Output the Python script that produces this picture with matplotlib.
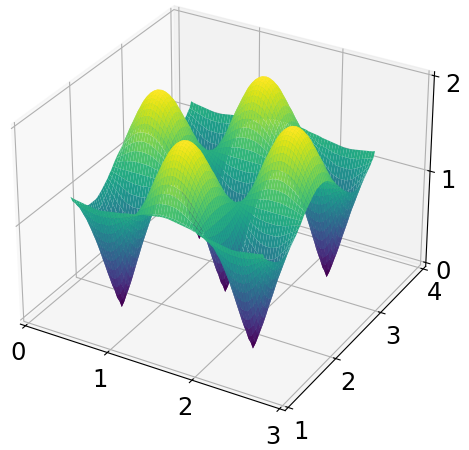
import numpy as np
import matplotlib
matplotlib.use("Agg")
import matplotlib.pyplot as plt

plt.rcParams["axes3d.automargin"] = True

x_nodes = np.linspace(0.383, 2.607, 69)
y_nodes = np.linspace(1.283, 3.666, 73)
z_low = [
 [0.00,0.07,0.16,0.26,0.37,0.48,0.59,0.71,0.82,0.93,1.04,1.14,1.24],
 [0.07,0.11,0.19,0.28,0.38,0.49,0.60,0.71,0.82,0.93,1.04,1.14,1.24],
 [0.16,0.19,0.245,0.32,0.42,0.52,0.62,0.73,0.835,0.94,1.04,1.14,1.24],
 [0.26,0.28,0.32,0.39,0.47,0.56,0.66,0.76,0.85,0.95,1.05,1.15,1.24],
 [0.37,0.38,0.42,0.47,0.54,0.62,0.70,0.79,0.88,0.97,1.065,1.15,1.24],
 [0.48,0.49,0.52,0.56,0.62,0.69,0.76,0.835,0.92,1.00,1.08,1.16,1.24],
 [0.59,0.60,0.62,0.66,0.70,0.76,0.82,0.885,0.95,1.03,1.10,1.17,1.24],
 [0.71,0.71,0.73,0.76,0.79,0.835,0.885,0.94,1.00,1.06,1.12,1.18,1.24],
 [0.82,0.82,0.835,0.85,0.88,0.92,0.95,1.00,1.04,1.09,1.14,1.19,1.24],
 [0.93,0.93,0.94,0.95,0.97,1.00,1.03,1.06,1.09,1.13,1.16,1.20,1.24],
 [1.04,1.04,1.04,1.05,1.065,1.08,1.10,1.12,1.14,1.16,1.19,1.21,1.24],
 [1.14,1.14,1.14,1.15,1.15,1.16,1.17,1.18,1.19,1.20,1.21,1.23,1.24],
 [1.24,1.24,1.24,1.24,1.24,1.24,1.24,1.24,1.24,1.24,1.24,1.24,1.24],
]
z_high = [
 [1.94,1.935,1.92,1.895,1.86,1.815,1.76,1.69,1.61,1.535,1.44,1.34,1.24],
 [1.935,1.93,1.915,1.89,1.855,1.81,1.75,1.685,1.61,1.53,1.44,1.34,1.24],
 [1.92,1.915,1.90,1.875,1.84,1.795,1.735,1.67,1.60,1.525,1.435,1.34,1.24],
 [1.895,1.89,1.875,1.85,1.82,1.775,1.72,1.655,1.59,1.51,1.43,1.335,1.24],
 [1.86,1.855,1.84,1.82,1.785,1.74,1.69,1.63,1.57,1.495,1.415,1.33,1.24],
 [1.815,1.81,1.795,1.775,1.74,1.70,1.655,1.60,1.545,1.475,1.40,1.32,1.24],
 [1.76,1.75,1.735,1.72,1.69,1.655,1.61,1.57,1.51,1.45,1.38,1.315,1.24],
 [1.69,1.685,1.67,1.655,1.63,1.60,1.57,1.525,1.475,1.42,1.36,1.305,1.24],
 [1.61,1.61,1.60,1.59,1.57,1.545,1.51,1.475,1.435,1.39,1.34,1.295,1.24],
 [1.535,1.53,1.525,1.51,1.495,1.475,1.45,1.42,1.39,1.35,1.32,1.28,1.24],
 [1.44,1.44,1.435,1.43,1.415,1.40,1.38,1.36,1.34,1.32,1.295,1.27,1.24],
 [1.34,1.34,1.34,1.335,1.33,1.32,1.315,1.305,1.295,1.28,1.27,1.25,1.24],
 [1.24,1.24,1.24,1.24,1.24,1.24,1.24,1.24,1.24,1.24,1.24,1.24,1.24],
]
z_edge = [1.22,1.22,1.225,1.23,1.235,1.24,1.245,1.25,1.255,1.26,1.27,1.275,1.28,
          1.285,1.29,1.30,1.305,1.31,1.315,1.32,1.325,1.33,1.335,1.34,1.34]

x_phase = np.abs(((np.arange(len(x_nodes)) - 10 + 24) % 48) - 24)
y_phase = np.abs(((np.arange(len(y_nodes)) - 12 + 24) % 48) - 24)
px, py = np.meshgrid(x_phase, y_phase)
fold_x = np.where(px > 12, 24 - px, px)
fold_y = np.where(py > 12, 24 - py, py)
same_side = (px > 12) == (py > 12)
Z = np.where(same_side, np.array(z_low)[fold_y, fold_x], np.array(z_high)[fold_y, fold_x])
edge = np.array(z_edge)
Z[0, :] = edge[x_phase]
Z[-1, :] = edge[x_phase]
X, Y = np.meshgrid(x_nodes, y_nodes)

fig = plt.figure(figsize=(4.69, 4.5), dpi=100)
ax = fig.add_axes([-0.0535, 0.0215, 1.047, 1.047], projection="3d")
ax.plot_surface(X, Y, Z, cmap="viridis", rstride=1, cstride=1, linewidth=0, antialiased=True)
ax.set_xlim(0, 3); ax.set_ylim(1, 4); ax.set_zlim(0, 2)
ax.set_xticks([0, 1, 2, 3]); ax.set_yticks([1, 2, 3, 4]); ax.set_zticks([0, 1, 2])
ax.tick_params(labelsize=17.5, pad=0)
fig.savefig("out.png", dpi=100)
